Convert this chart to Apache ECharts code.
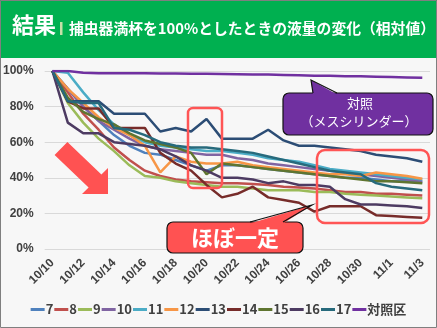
<!DOCTYPE html>
<html><head><meta charset="utf-8">
<script src="https://cdn.jsdelivr.net/npm/echarts@6/dist/echarts.min.js"></script>
<style>html,body{margin:0;padding:0;background:#f7f7f7}#c{width:437px;height:328px}</style>
</head><body><div id="c"></div>
<script>
const categories = ['10/10','10/11','10/12','10/13','10/14','10/15','10/16','10/17','10/18','10/19','10/20','10/21','10/22','10/23','10/24','10/25','10/26','10/27','10/28','10/29','10/30','10/31','11/1','11/2','11/3'];
const seriesNames = ['7','8','9','10','11','12','13','14','15','16','17','対照区'];
const s7  = [100,90,80,72,64,58,54,53,50,47,44,47,47,46,45,44,43,42,41,40,40,39,38,38,37.5];
const s8  = [100,88,76,67,57,50,44,41,39,38,37.5,37,37,36.5,36,35,34.5,34,33,32,32,31,31,30.5,30];
const s9  = [100,82,71,62,55,47,41,40,38,37,36,35,35,34,33,33,33,32,32,31,30.5,30,29.5,29,28.5];
const s10 = [100,90,80,72,67,62,58,56,55,54,53,53,51,50,48,47,46,45,44,43,42,41,40,39,38];
const s11 = [100,99,88,78,70,64,60,58,57,56,55,55,54,53,51,50,49,47,45,44,43,42,41,40,39];
const s12 = [100,90,82,74,68,64,58,43,52,49,48,48,49,47,46,45,44,43,42,42,41,43,42,41,39.5];
const s13 = [100,83,83,83,76,76,76,66,68,66,73,62,62,62,67,61,58,58,57,56,55,53,52,51,49];
const s14 = [100,83,79,79,68,68,68,54,48,44,36,29,31,35,29,27.5,26,21,24,24,24,19,18.5,18,17.5];
const s15 = [100,85,77,73,70,65,61,59,57,54,42,48,47,46,45,44,43,42,41,40,39,38,38,37.5,37];
const s16 = [100,71,65,65,60,59,58,56,52,47,44,40,40,39,37,38,36,36,35,28,25,25,24.5,24,23];
const s17 = [100,83,82,82,68,67,64,60,58,57,57,56,55,54,52,50,48,46,44,43,42,37,35,34,33];
const control = [100,100,99,98.8,98.8,98.7,98.7,98.6,98.6,98.5,98.4,98.3,98.2,98.1,98,97.8,97.6,97.4,97.3,97.1,97,96.8,96.6,96.4,96.2];
const yTicks = [0,20,40,60,80,100];

const values = [s7,s8,s9,s10,s11,s12,s13,s14,s15,s16,s17,control];
const colors = ['#4F81BD','#C0504D','#9BBB59','#8064A2','#4BACC6','#F79646','#2C4D75','#772C2A','#5F7530','#4D3B62','#276A7C','#7030A0'];

const chart = echarts.init(document.getElementById('c'));
const FONT = '"Noto Sans CJK JP", "Liberation Sans", sans-serif';
chart.setOption({
  animation: false,
  backgroundColor: '#f7f7f7',
  color: colors,
  grid: {left: 43, right: 7, top: 71, bottom: 79},
  xAxis: {
    type: 'category', data: categories, boundaryGap: true,
    axisLine: {show: false}, axisTick: {show: false},
    axisLabel: {interval: 1, rotate: 45, margin: 12, color: '#404040', fontWeight: 'bold', fontSize: 12, fontFamily: 'Liberation Sans'}
  },
  yAxis: {
    type: 'value', min: yTicks[0], max: yTicks[yTicks.length-1], interval: 20,
    axisLine: {show: false}, axisTick: {show: false},
    splitLine: {lineStyle: {color: '#d9d9d9', width: 1}},
    axisLabel: {formatter: '{value}%', margin: 11, color: '#404040', fontWeight: 'bold', fontSize: 12, fontFamily: 'Liberation Sans'}
  },
  legend: {
    left: 'center', top: 298, icon: 'rect', itemWidth: 14, itemHeight: 3, itemGap: 1,
    data: seriesNames,
    textStyle: {color: '#404040', fontWeight: 'bold', fontSize: 13, fontFamily: FONT, padding: [0,0,0,-4]}
  },
  series: seriesNames.map((n, i) => ({
    name: n, type: 'line', data: values[i], symbol: 'none',
    lineStyle: {width: 2.5, color: colors[i]}, itemStyle: {color: colors[i]}
  })),
  graphic: [
    {type: 'rect', z: 100, shape: {x: 0, y: 0, width: 437, height: 58}, style: {fill: '#00B050'}},
    {type: 'text', z: 101, style: {x: 12, y: 25, text: '結果', fill: '#fff', font: 'bold 22px ' + FONT, verticalAlign: 'middle'}},
    {type: 'rect', z: 101, shape: {x: 60, y: 22, width: 2.5, height: 13}, style: {fill: '#c6e0a8'}},
    {type: 'text', z: 101, style: {x: 69, y: 28.5, text: '捕虫器満杯を100%としたときの液量の変化（相対値）', fill: '#fff', font: 'bold 14.8px ' + FONT, verticalAlign: 'middle'}},
    {type: 'rect', z: 102, shape: {x: 0.5, y: 0.5, width: 436, height: 327}, style: {fill: null, stroke: '#7f7f7f', lineWidth: 1}},
    {type: 'polygon', z: 100, shape: {points: [[67.4,142.1],[101.4,174.6],[108,168],[108,194],[82,194],[88.6,187.4],[54.6,154.9]]}, style: {fill: '#ff5252'}},
    {type: 'rect', z: 100, shape: {x: 188, y: 108, width: 34, height: 80, r: 5}, style: {fill: null, stroke: '#ff5555', lineWidth: 2.5}},
    {type: 'rect', z: 100, shape: {x: 317, y: 150, width: 112, height: 73, r: 8}, style: {fill: null, stroke: '#ff5555', lineWidth: 2.5}},
    {type: 'rect', z: 100, shape: {x: 283, y: 93, width: 150, height: 42, r: 6}, style: {fill: '#7030A0', stroke: '#111', lineWidth: 1.2}},
    {type: 'polygon', z: 101, shape: {points: [[313,94.5],[311,80],[337,94.5]]}, style: {fill: '#7030A0'}},
    {type: 'polyline', z: 101, shape: {points: [[313,93],[311,80],[337,93]]}, style: {fill: null, stroke: '#111', lineWidth: 1.2}},
    {type: 'text', z: 102, style: {x: 360, y: 103, text: '対照', fill: '#fff', font: '13px ' + FONT, align: 'center', verticalAlign: 'middle'}},
    {type: 'text', z: 102, style: {x: 359, y: 121, text: '（メスシリンダー）', fill: '#fff', font: '13px ' + FONT, align: 'center', verticalAlign: 'middle'}},
    {type: 'rect', z: 100, shape: {x: 167, y: 222, width: 136, height: 31, r: 6}, style: {fill: '#ff5252', stroke: '#111', lineWidth: 1.2}},
    {type: 'polygon', z: 101, shape: {points: [[250,223.5],[312,205],[283,223.5]]}, style: {fill: '#ff5252'}},
    {type: 'polyline', z: 101, shape: {points: [[250,222],[312,205],[283,222]]}, style: {fill: null, stroke: '#111', lineWidth: 1.2}},
    {type: 'text', z: 102, style: {x: 235, y: 238, text: 'ほぼ一定', fill: '#fff', font: 'bold 22px ' + FONT, align: 'center', verticalAlign: 'middle'}}
  ]
});
</script></body></html>
